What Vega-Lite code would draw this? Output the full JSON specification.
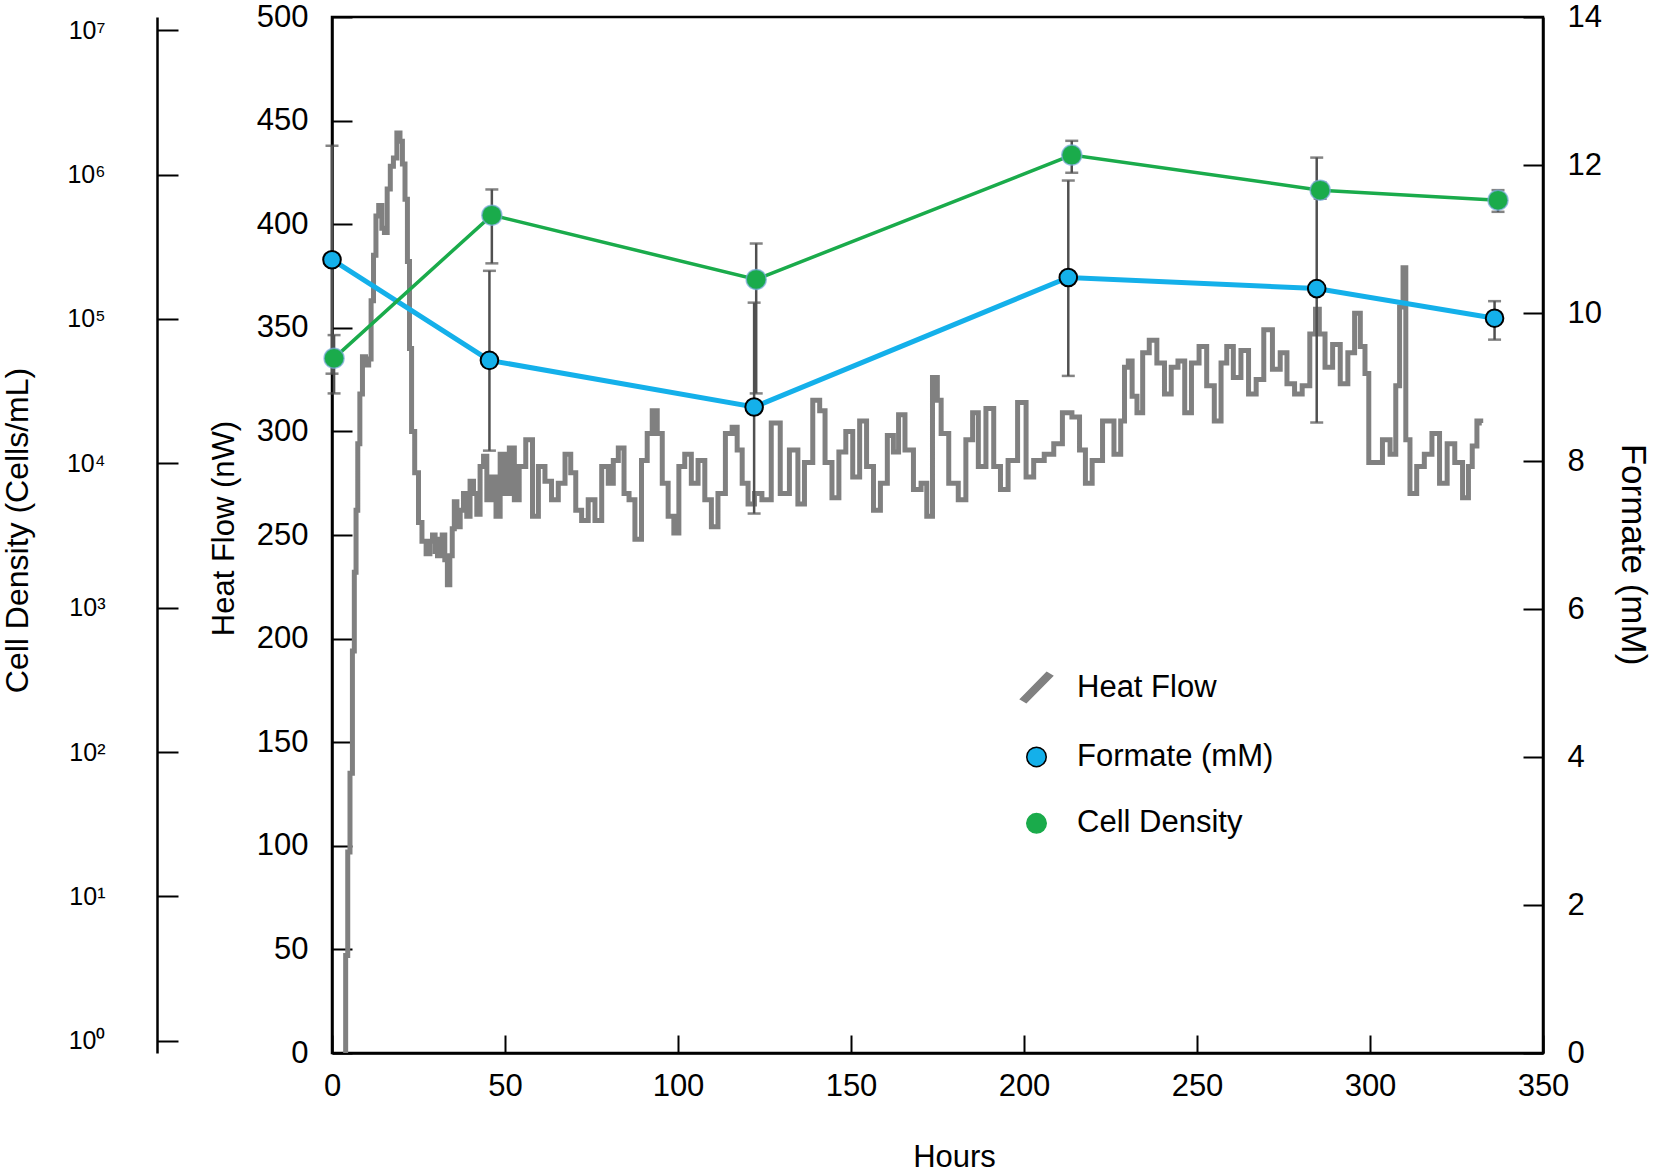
{
  "$schema": "https://vega.github.io/schema/vega-lite/v6.json",
  "width": 1211,
  "height": 1036,
  "autosize": {"type": "none"},
  "padding": {"left": 332, "top": 17, "right": 110, "bottom": 122},
  "background": "white",
  "config": {
    "font": "Liberation Sans",
    "view": {"stroke": "black", "strokeWidth": 2.5},
    "axis": {
      "domainColor": "black",
      "domainWidth": 2.5,
      "tickColor": "black",
      "tickWidth": 2,
      "labelFont": "Liberation Sans",
      "labelFontSize": 31,
      "labelColor": "black",
      "titleFont": "Liberation Sans",
      "titleFontSize": 31,
      "titleFontWeight": "normal",
      "titleColor": "black",
      "grid": false,
      "labelOverlap": false
    },
    "legend": {
      "orient": "none",
      "legendX": 689,
      "legendY": 655,
      "direction": "vertical",
      "padding": 0,
      "symbolSize": 380,
      "symbolOpacity": 1,
      "labelFont": "Liberation Sans",
      "labelFontSize": 31,
      "labelColor": "black",
      "labelLimit": 400,
      "labelOffset": 25,
      "rowPadding": 34.4
    }
  },
  "datasets": {
    "heat": [
      {"hours": 3.6, "nW": 0}, {"hours": 4.3, "nW": 47}, {"hours": 4.8, "nW": 97}, {"hours": 5.6, "nW": 135},
      {"hours": 6.2, "nW": 194}, {"hours": 6.7, "nW": 232}, {"hours": 7.2, "nW": 262}, {"hours": 7.7, "nW": 294},
      {"hours": 8.4, "nW": 318}, {"hours": 9.2, "nW": 336}, {"hours": 10.2, "nW": 332}, {"hours": 11.0, "nW": 335},
      {"hours": 11.6, "nW": 363}, {"hours": 12.4, "nW": 385}, {"hours": 13.0, "nW": 404}, {"hours": 14.0, "nW": 409},
      {"hours": 14.8, "nW": 398}, {"hours": 15.5, "nW": 396}, {"hours": 16.4, "nW": 417}, {"hours": 17.3, "nW": 428},
      {"hours": 18.2, "nW": 432}, {"hours": 19.3, "nW": 444}, {"hours": 20.0, "nW": 440}, {"hours": 20.7, "nW": 429},
      {"hours": 21.5, "nW": 412}, {"hours": 22.1, "nW": 382}, {"hours": 22.7, "nW": 340}, {"hours": 23.3, "nW": 300},
      {"hours": 24.5, "nW": 280}, {"hours": 25.5, "nW": 256}, {"hours": 26.5, "nW": 247}, {"hours": 27.9, "nW": 241},
      {"hours": 28.7, "nW": 247}, {"hours": 29.4, "nW": 250}, {"hours": 30.2, "nW": 242}, {"hours": 30.8, "nW": 240},
      {"hours": 31.5, "nW": 248}, {"hours": 32.2, "nW": 250}, {"hours": 33.0, "nW": 238}, {"hours": 33.7, "nW": 226},
      {"hours": 34.4, "nW": 240}, {"hours": 35.1, "nW": 253}, {"hours": 35.6, "nW": 266}, {"hours": 36.6, "nW": 254},
      {"hours": 37.5, "nW": 262}, {"hours": 38.5, "nW": 270}, {"hours": 39.4, "nW": 259}, {"hours": 40.4, "nW": 276},
      {"hours": 41.4, "nW": 270}, {"hours": 42.3, "nW": 260}, {"hours": 43.3, "nW": 283}, {"hours": 44.3, "nW": 288},
      {"hours": 45.2, "nW": 267}, {"hours": 46.7, "nW": 278}, {"hours": 48.1, "nW": 259}, {"hours": 49.1, "nW": 289},
      {"hours": 50.5, "nW": 270}, {"hours": 52.0, "nW": 292}, {"hours": 53.4, "nW": 267}, {"hours": 54.8, "nW": 283},
      {"hours": 57.2, "nW": 296}, {"hours": 58.7, "nW": 259}, {"hours": 60.6, "nW": 283}, {"hours": 62.5, "nW": 276},
      {"hours": 64.4, "nW": 267}, {"hours": 66.4, "nW": 275}, {"hours": 68.3, "nW": 289}, {"hours": 69.7, "nW": 280},
      {"hours": 71.2, "nW": 262}, {"hours": 73.1, "nW": 257}, {"hours": 75.0, "nW": 267}, {"hours": 77.0, "nW": 257},
      {"hours": 78.9, "nW": 283}, {"hours": 80.8, "nW": 275}, {"hours": 81.8, "nW": 286}, {"hours": 83.7, "nW": 292},
      {"hours": 85.1, "nW": 270}, {"hours": 86.6, "nW": 267}, {"hours": 88.5, "nW": 248}, {"hours": 90.4, "nW": 286},
      {"hours": 91.8, "nW": 299}, {"hours": 93.3, "nW": 310}, {"hours": 94.7, "nW": 299}, {"hours": 96.2, "nW": 275},
      {"hours": 98.1, "nW": 259}, {"hours": 99.5, "nW": 251}, {"hours": 101.0, "nW": 283}, {"hours": 102.9, "nW": 289},
      {"hours": 104.8, "nW": 275}, {"hours": 106.8, "nW": 286}, {"hours": 108.7, "nW": 267}, {"hours": 110.6, "nW": 254},
      {"hours": 112.5, "nW": 270}, {"hours": 114.9, "nW": 299}, {"hours": 116.4, "nW": 302}, {"hours": 117.8, "nW": 291},
      {"hours": 119.3, "nW": 275}, {"hours": 121.2, "nW": 265}, {"hours": 123.0, "nW": 270}, {"hours": 125.5, "nW": 267},
      {"hours": 128.4, "nW": 304}, {"hours": 130.7, "nW": 270}, {"hours": 133.7, "nW": 291}, {"hours": 135.6, "nW": 265},
      {"hours": 137.5, "nW": 285}, {"hours": 140.4, "nW": 315}, {"hours": 141.5, "nW": 310}, {"hours": 143.5, "nW": 285},
      {"hours": 145.5, "nW": 268}, {"hours": 147.5, "nW": 290}, {"hours": 149.5, "nW": 300}, {"hours": 151.5, "nW": 278},
      {"hours": 153.5, "nW": 305}, {"hours": 155.5, "nW": 283}, {"hours": 157.5, "nW": 262}, {"hours": 159.5, "nW": 275},
      {"hours": 161.5, "nW": 298}, {"hours": 163.0, "nW": 290}, {"hours": 164.5, "nW": 308}, {"hours": 166.7, "nW": 291},
      {"hours": 169.4, "nW": 272}, {"hours": 171.1, "nW": 275}, {"hours": 172.7, "nW": 259}, {"hours": 174.4, "nW": 326},
      {"hours": 175.5, "nW": 315}, {"hours": 176.6, "nW": 299}, {"hours": 179.9, "nW": 275}, {"hours": 182.1, "nW": 267},
      {"hours": 184.3, "nW": 296}, {"hours": 186.0, "nW": 309}, {"hours": 187.6, "nW": 283}, {"hours": 190.4, "nW": 311},
      {"hours": 192.1, "nW": 283}, {"hours": 194.3, "nW": 272}, {"hours": 196.5, "nW": 286}, {"hours": 199.8, "nW": 314},
      {"hours": 201.4, "nW": 278}, {"hours": 204.2, "nW": 286}, {"hours": 207.5, "nW": 289}, {"hours": 209.7, "nW": 294},
      {"hours": 212.5, "nW": 309}, {"hours": 215.2, "nW": 307}, {"hours": 216.9, "nW": 291}, {"hours": 218.6, "nW": 275},
      {"hours": 220.8, "nW": 286}, {"hours": 224.6, "nW": 305}, {"hours": 227.4, "nW": 289}, {"hours": 228.5, "nW": 305},
      {"hours": 229.6, "nW": 331}, {"hours": 230.7, "nW": 334}, {"hours": 231.8, "nW": 317}, {"hours": 233.5, "nW": 309},
      {"hours": 235.1, "nW": 338}, {"hours": 237.3, "nW": 344}, {"hours": 239.5, "nW": 333}, {"hours": 241.7, "nW": 318},
      {"hours": 243.4, "nW": 331}, {"hours": 245.6, "nW": 334}, {"hours": 247.3, "nW": 309}, {"hours": 249.5, "nW": 333},
      {"hours": 251.7, "nW": 341}, {"hours": 253.9, "nW": 322}, {"hours": 256.1, "nW": 305}, {"hours": 257.8, "nW": 333},
      {"hours": 259.4, "nW": 341}, {"hours": 261.6, "nW": 326}, {"hours": 263.8, "nW": 339}, {"hours": 266.0, "nW": 318},
      {"hours": 268.2, "nW": 325}, {"hours": 270.4, "nW": 349}, {"hours": 273.2, "nW": 330}, {"hours": 274.9, "nW": 338},
      {"hours": 277.1, "nW": 323}, {"hours": 279.3, "nW": 318}, {"hours": 281.5, "nW": 322}, {"hours": 283.7, "nW": 347},
      {"hours": 284.8, "nW": 359}, {"hours": 285.9, "nW": 347}, {"hours": 288.1, "nW": 331}, {"hours": 290.3, "nW": 342},
      {"hours": 292.5, "nW": 323}, {"hours": 294.7, "nW": 338}, {"hours": 296.4, "nW": 357}, {"hours": 298.0, "nW": 341},
      {"hours": 299.1, "nW": 328}, {"hours": 300.2, "nW": 285}, {"hours": 302.5, "nW": 285}, {"hours": 304.7, "nW": 296},
      {"hours": 306.9, "nW": 289}, {"hours": 308.0, "nW": 322}, {"hours": 309.1, "nW": 360}, {"hours": 310.0, "nW": 379},
      {"hours": 310.7, "nW": 296}, {"hours": 312.4, "nW": 270}, {"hours": 314.6, "nW": 283}, {"hours": 316.8, "nW": 289},
      {"hours": 319.0, "nW": 299}, {"hours": 321.2, "nW": 275}, {"hours": 323.4, "nW": 294}, {"hours": 325.6, "nW": 285},
      {"hours": 327.9, "nW": 268}, {"hours": 329.0, "nW": 283}, {"hours": 330.1, "nW": 293}, {"hours": 331.7, "nW": 305},
      {"hours": 332.3, "nW": 304}
    ],
    "formate": [
      {"hours": 0, "series": "Formate (mM)", "mM": 10.72, "lo": 9.18, "hi": 12.26},
      {"hours": 45.5, "series": "Formate (mM)", "mM": 9.36, "lo": 8.14, "hi": 10.57},
      {"hours": 122, "series": "Formate (mM)", "mM": 8.73, "lo": 7.29, "hi": 10.14},
      {"hours": 212.8, "series": "Formate (mM)", "mM": 10.48, "lo": 9.15, "hi": 11.79},
      {"hours": 284.6, "series": "Formate (mM)", "mM": 10.33, "lo": 8.52, "hi": 12.1},
      {"hours": 336, "series": "Formate (mM)", "mM": 9.93, "lo": 9.64, "hi": 10.16}
    ],
    "cells": [
      {"hours": 0.6, "cells": 53500, "lo": 30500, "hi": 77300},
      {"hours": 46.2, "cells": 523600, "lo": 242700, "hi": 788500},
      {"hours": 122.6, "cells": 187900, "lo": 30500, "hi": 333000},
      {"hours": 213.8, "cells": 1364000, "lo": 1029000, "hi": 1713000},
      {"hours": 285.6, "cells": 780000, "lo": 680000, "hi": 880000},
      {"hours": 337, "cells": 665000, "lo": 552000, "hi": 780000}
    ]
  },
  "encoding": {
    "x": {
      "field": "hours",
      "type": "quantitative",
      "scale": {"domain": [0, 350], "nice": false},
      "axis": {
        "title": "Hours",
        "values": [0, 50, 100, 150, 200, 250, 300, 350],
        "tickSize": -18,
        "labelPadding": 36,
        "labelFlush": false,
        "titleX": 622,
        "titleY": 104,
        "titleBaseline": "middle"
      }
    }
  },
  "layer": [
    {
      "data": {"name": "heat"},
      "mark": {"type": "line", "color": "#808080", "strokeWidth": 5, "interpolate": "step", "clip": true},
      "encoding": {
        "y": {
          "field": "nW",
          "type": "quantitative",
          "scale": {"domain": [0, 500], "nice": false},
          "axis": {
            "title": "Heat Flow (nW)",
            "orient": "left",
            "values": [0, 50, 100, 150, 200, 250, 300, 350, 400, 450, 500],
            "tickSize": -20,
            "labelPadding": 44,
            "titleX": -108,
            "titleY": 511,
            "titleAngle": -90,
            "titleAlign": "center",
            "titleBaseline": "middle"
          }
        }
      }
    },
    {
      "data": {"name": "formate"},
      "layer": [
        {
          "mark": {
            "type": "errorbar",
            "ticks": {"size": 13, "thickness": 2.5, "color": "#505050"},
            "rule": {"strokeWidth": 2.5, "color": "#505050"}
          },
          "encoding": {
            "y": {"field": "lo", "type": "quantitative", "title": "Formate (mM)", "scale": {"domain": [0, 14], "nice": false}},
            "y2": {"field": "hi"}
          }
        },
        {
          "mark": {"type": "line", "color": "#14b0ea", "strokeWidth": 5},
          "encoding": {
            "y": {
              "field": "mM",
              "type": "quantitative",
              "title": "Formate (mM)",
              "axis": {
                "orient": "right",
                "values": [0, 2, 4, 6, 8, 10, 12, 14],
                "format": "d",
                "tickSize": -20,
                "labelPadding": 44,
                "titleFontSize": 35,
                "titleX": 89,
                "titleY": 537,
                "titleAngle": 90,
                "titleAlign": "center",
                "titleBaseline": "middle"
              }
            }
          }
        },
        {
          "mark": {"type": "point", "filled": true, "size": 310, "opacity": 1, "strokeWidth": 2},
          "encoding": {
            "y": {"field": "mM", "type": "quantitative", "title": "Formate (mM)"},
            "shape": {
              "field": "series",
              "type": "nominal",
              "scale": {
                "domain": ["Heat Flow", "Formate (mM)", "Cell Density"],
                "range": ["M-1.65,1.2L1.05,-1.55L1.65,-1.2L-1.05,1.55Z", "circle", "circle"]
              },
              "legend": {"title": null}
            },
            "color": {
              "field": "series",
              "type": "nominal",
              "scale": {
                "domain": ["Heat Flow", "Formate (mM)", "Cell Density"],
                "range": ["#808080", "#14b0ea", "#1aab4b"]
              },
              "legend": {"title": null}
            },
            "stroke": {
              "field": "series",
              "type": "nominal",
              "scale": {
                "domain": ["Heat Flow", "Formate (mM)", "Cell Density"],
                "range": ["#808080", "#000000", "#1aab4b"]
              },
              "legend": {"title": null}
            }
          }
        }
      ]
    },
    {
      "data": {"name": "cells"},
      "layer": [
        {
          "mark": {
            "type": "errorbar",
            "ticks": {"size": 13, "thickness": 2.5, "color": "#505050"},
            "rule": {"strokeWidth": 2.5, "color": "#505050"}
          },
          "encoding": {
            "y": {"field": "lo", "type": "quantitative", "title": "Cell Density (Cells/mL)", "scale": {"type": "log", "domain": [0.824, 12340000], "nice": false}},
            "y2": {"field": "hi"}
          }
        },
        {
          "mark": {"type": "line", "color": "#1aab4b", "strokeWidth": 3.5},
          "encoding": {
            "y": {
              "field": "cells",
              "type": "quantitative",
              "title": "Cell Density (Cells/mL)",
              "axis": {
                "orient": "left",
                "offset": 175,
                "values": [1, 10, 100, 1000, 10000, 100000, 1000000, 10000000],
                "labelExpr": "'10' + ['⁰','¹','²','³','⁴','⁵','⁶','⁷'][round(log(datum.value) / LN10)]",
                "labelFontSize": 25,
                "tickSize": -21,
                "labelPadding": 73,
                "titleFontSize": 32,
                "titleX": -140,
                "titleY": 513,
                "titleAngle": -90,
                "titleAlign": "center",
                "titleBaseline": "middle"
              }
            }
          }
        },
        {
          "mark": {"type": "point", "filled": true, "size": 400, "opacity": 1, "color": "#1aab4b", "stroke": "#7aaadc", "strokeWidth": 1.5, "strokeOpacity": 0.7},
          "encoding": {
            "y": {"field": "cells", "type": "quantitative", "title": "Cell Density (Cells/mL)"}
          }
        }
      ]
    }
  ],
  "resolve": {"scale": {"y": "independent"}, "axis": {"y": "independent"}}
}
